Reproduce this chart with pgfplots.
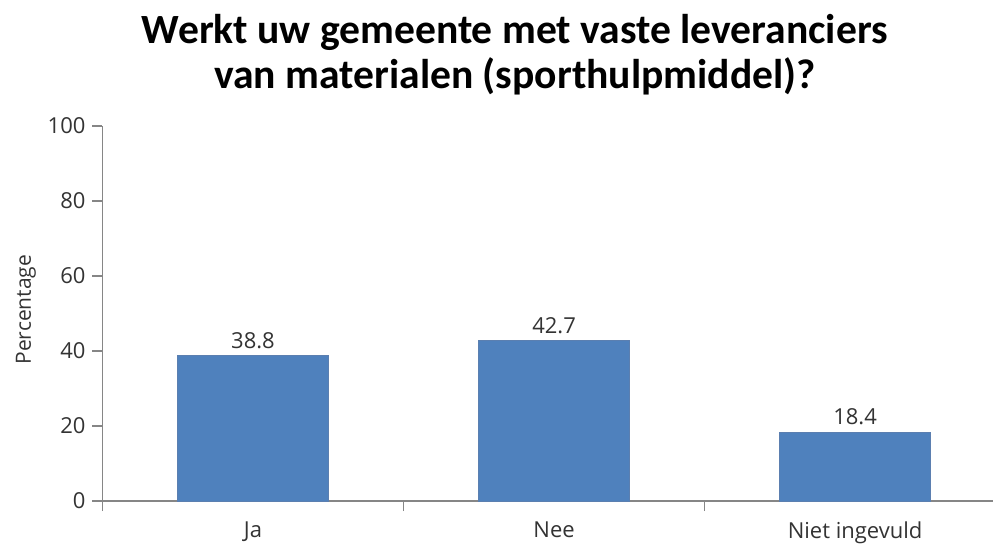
\documentclass[border=0pt]{standalone}
\usepackage{pgfplots}
\pgfplotsset{compat=1.18}
\usepackage{fontspec}
\setmainfont{Open Sans}
\newfontfamily\titlefont{Carlito}
\definecolor{barblue}{HTML}{4F81BD}
\definecolor{baredge}{HTML}{5B7FB0}
\definecolor{axisgray}{HTML}{868686}
\definecolor{txt}{HTML}{333333}
\begin{document}
\begin{tikzpicture}
\begin{axis}[
    scale only axis,
    at={(0,0)}, anchor=south west,
    width=445.25pt,
    height=187.5pt,
    xmin=-0.5, xmax=2.458,
    ymin=0, ymax=100,
    axis x line=bottom,
    axis y line=left,
    axis line style={-, axisgray, line width=0.9pt},
    tick style={axisgray, line width=0.9pt},
    tick align=outside,
    major tick length=5pt,
    minor tick length=5pt,
    xtick={0,1,2},
    xticklabels={Ja, Nee, Niet ingevuld},
    x tick style={draw=none},
    minor xtick={-0.5,0.5,1.5},
    minor x tick style={draw=axisgray, line width=0.9pt},
    ytick={0,20,...,100},
    ticklabel style={font=\fontsize{11}{13}\selectfont, text=txt},
    /pgf/number format/assume math mode=true,
    x tick label style={yshift=-2pt},
    ylabel={Percentage},
    ylabel style={at={(axis description cs:-0.086,0.51)}, anchor=center,
        font=\fontsize{10.5}{12}\selectfont, text=txt},
    ybar,
    bar width=75.5pt,
    nodes near coords,
    nodes near coords style={font=\fontsize{11}{13}\selectfont, text=txt,
        /pgf/number format/.cd, fixed, fixed zerofill, precision=1, assume math mode=true},
]
\addplot[fill=barblue, draw=baredge, line width=0.5pt] coordinates {
    (0, 38.8)
    (1, 42.7)
    (2, 18.4)
};
\end{axis}
\node[align=center, font=\titlefont\bfseries\fontsize{20.8}{22.5}\selectfont]
    at (206.25pt, 223pt) {Werkt uw gemeente met vaste leveranciers\\van materialen (sporthulpmiddel)?};
\pgfresetboundingbox
\path[use as bounding box] (-51.25pt,-21pt) rectangle (445.25pt,250.5pt);
\end{tikzpicture}
\end{document}
